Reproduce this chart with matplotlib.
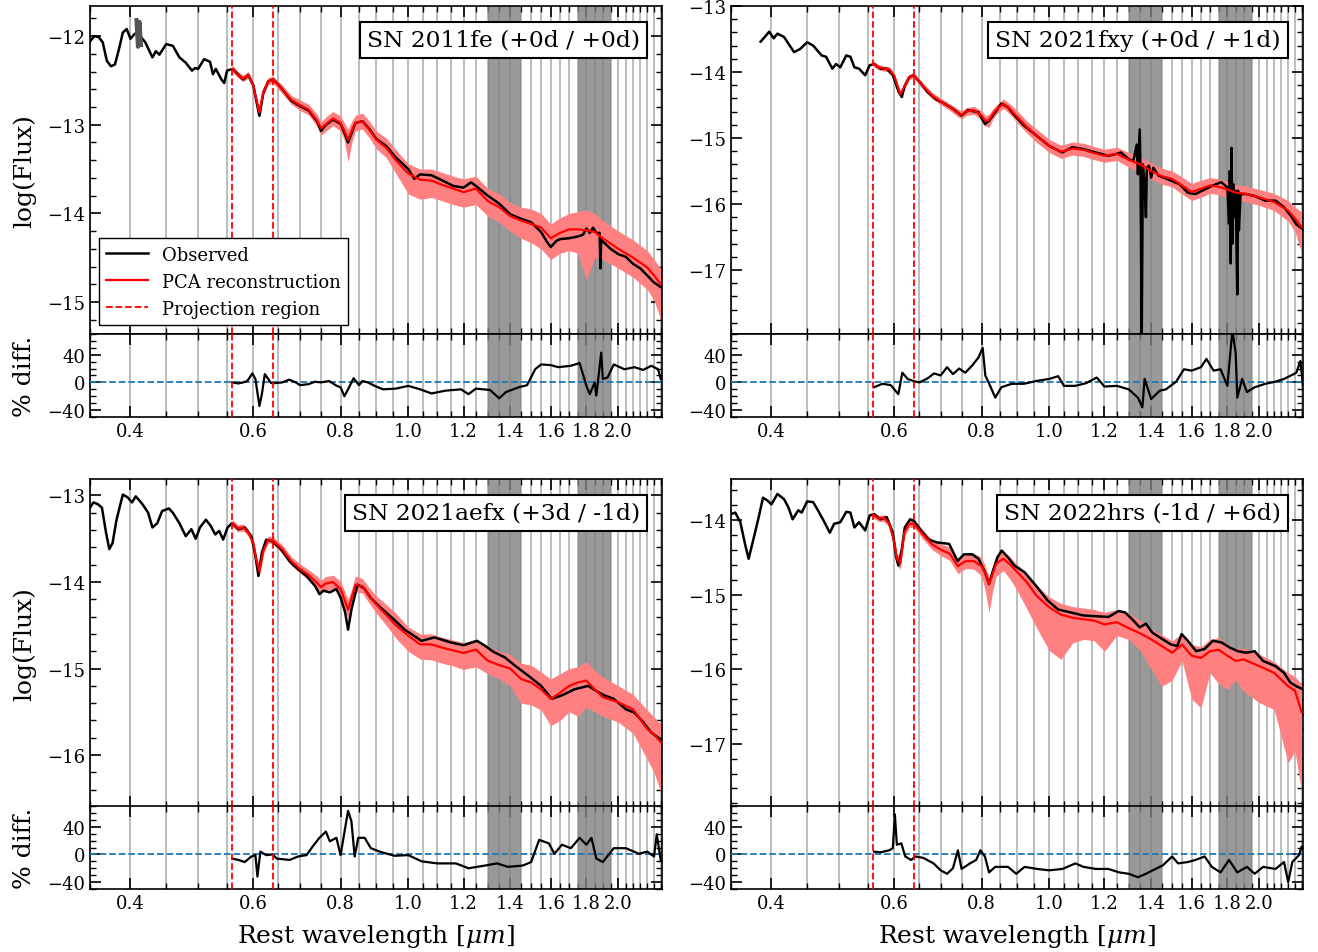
import matplotlib.pyplot as plt
from matplotlib.ticker import FixedLocator, FixedFormatter, MultipleLocator, NullFormatter

plt.rcParams['font.family'] = 'DejaVu Serif'
plt.rcParams['mathtext.fontset'] = 'dejavuserif'
plt.rcParams['axes.linewidth'] = 1.2

# wavelength ticks (micron)
xticks = [0.4, 0.6, 0.8, 1.0, 1.2, 1.4, 1.6, 1.8, 2.0]
xticklabels = ['0.4', '0.6', '0.8', '1.0', '1.2', '1.4', '1.6', '1.8', '2.0']
tellurics = [(1.30, 1.45), (1.75, 1.95)]
proj_region = [0.56, 0.64]

# grid of the PCA reconstruction (shared by the four SNe)
pca_wl = [0.56, 0.57, 0.58, 0.59, 0.60, 0.605, 0.612, 0.62, 0.63, 0.64,
          0.66, 0.68, 0.70, 0.72, 0.74, 0.75, 0.76, 0.78, 0.80, 0.81,
          0.82, 0.83, 0.84, 0.86, 0.88, 0.90, 0.93, 0.96, 1.00, 1.04,
          1.08, 1.12, 1.16, 1.20, 1.25, 1.30, 1.35, 1.40, 1.45, 1.50,
          1.55, 1.60, 1.65, 1.70, 1.75, 1.80, 1.85, 1.90, 2.00, 2.10,
          2.20, 2.25, 2.30]

# ---------------- SN 2011fe ----------------
fe_wl = [0.350, 0.355, 0.360, 0.365, 0.370, 0.375, 0.380, 0.385, 0.390, 0.395,
         0.400, 0.405, 0.410, 0.415, 0.420, 0.430, 0.435, 0.440, 0.450, 0.460,
         0.470, 0.480, 0.490, 0.495, 0.500, 0.510, 0.520, 0.525, 0.530, 0.540,
         0.545, 0.550, 0.560, 0.570, 0.580, 0.590, 0.600, 0.605, 0.612, 0.620,
         0.630, 0.640, 0.650, 0.660, 0.680, 0.700, 0.720, 0.740, 0.750, 0.760,
         0.780, 0.800, 0.810, 0.820, 0.830, 0.840, 0.860, 0.880, 0.900, 0.930,
         0.960, 1.000, 1.020, 1.040, 1.080, 1.120, 1.160, 1.200, 1.230, 1.250,
         1.300, 1.350, 1.400, 1.450, 1.500, 1.550, 1.580, 1.600, 1.630, 1.650,
         1.700, 1.750, 1.780, 1.800, 1.820, 1.840, 1.860, 1.880, 1.885, 1.890,
         1.950, 2.000, 2.050, 2.100, 2.150, 2.200, 2.250, 2.300]
fe_obs = [-12.06, -12.00, -12.01, -12.07, -12.28, -12.34, -12.32, -12.15, -11.96, -11.92,
          -12.03, -11.98, -11.95, -12.02, -12.07, -12.24, -12.17, -12.21, -12.09, -12.11,
          -12.24, -12.30, -12.39, -12.36, -12.37, -12.26, -12.29, -12.43, -12.37, -12.49,
          -12.53, -12.39, -12.37, -12.43, -12.49, -12.44, -12.56, -12.71, -12.90, -12.64,
          -12.51, -12.49, -12.54, -12.60, -12.73, -12.79, -12.84, -12.96, -13.07, -13.01,
          -12.94, -12.99, -13.09, -13.20, -13.09, -12.98, -12.96, -13.05, -13.16, -13.24,
          -13.37, -13.50, -13.61, -13.56, -13.57, -13.63, -13.69, -13.71, -13.65, -13.69,
          -13.80, -13.89, -14.01, -14.06, -14.10, -14.21, -14.32, -14.38, -14.31, -14.29,
          -14.28, -14.26, -14.24, -14.17, -14.22, -14.16, -14.22, -14.22, -14.62, -14.30,
          -14.40, -14.46, -14.49, -14.57, -14.62, -14.70, -14.78, -14.83]
fe_mask_wl = [0.408, 0.410, 0.412, 0.414]
fe_mask = [-11.82, -12.12, -11.84, -12.10]
fe_pca = [-12.37, -12.44, -12.48, -12.44, -12.56, -12.70, -12.86, -12.63, -12.51, -12.49,
          -12.60, -12.72, -12.78, -12.83, -12.95, -13.04, -13.00, -12.93, -12.98, -13.07,
          -13.17, -13.07, -12.98, -12.96, -13.06, -13.17, -13.26, -13.40, -13.55, -13.62,
          -13.63, -13.68, -13.72, -13.76, -13.72, -13.86, -13.93, -14.03, -14.08, -14.12,
          -14.16, -14.28, -14.22, -14.18, -14.18, -14.19, -14.21, -14.28, -14.40, -14.50,
          -14.61, -14.70, -14.80]
fe_lo = [-12.40, -12.47, -12.51, -12.48, -12.60, -12.75, -12.91, -12.67, -12.55, -12.53,
         -12.65, -12.77, -12.84, -12.89, -13.02, -13.12, -13.08, -13.01, -13.07, -13.18,
         -13.42, -13.20, -13.07, -13.05, -13.15, -13.27, -13.37, -13.55, -13.78, -13.84,
         -13.82, -13.86, -13.90, -13.93, -13.90, -14.03, -14.10, -14.20, -14.28, -14.33,
         -14.40, -14.52, -14.45, -14.42, -14.45, -14.75, -14.50, -14.52, -14.62, -14.72,
         -14.86, -14.98, -15.20]
fe_hi = [-12.33, -12.40, -12.44, -12.40, -12.52, -12.65, -12.81, -12.59, -12.47, -12.45,
         -12.55, -12.67, -12.72, -12.77, -12.88, -12.97, -12.92, -12.85, -12.90, -12.98,
         -13.05, -12.96, -12.89, -12.87, -12.96, -13.07, -13.15, -13.28, -13.44, -13.50,
         -13.50, -13.54, -13.58, -13.61, -13.58, -13.72, -13.78, -13.88, -13.93, -13.95,
         -14.00, -14.12, -14.05, -14.00, -13.98, -13.96, -14.00, -14.08, -14.20, -14.30,
         -14.42, -14.52, -14.62]
fe_res_wl = [0.559, 0.571, 0.58, 0.588, 0.598, 0.604, 0.612, 0.617, 0.623, 0.63,
             0.636, 0.645, 0.66, 0.675, 0.69, 0.70, 0.72, 0.735, 0.75, 0.77,
             0.79, 0.80, 0.81, 0.82, 0.835, 0.85, 0.86, 0.875, 0.895, 0.92,
             0.96, 1.00, 1.04, 1.08, 1.13, 1.19, 1.22, 1.25, 1.31, 1.35,
             1.38, 1.44, 1.48, 1.52, 1.55, 1.60, 1.64, 1.71, 1.76, 1.80,
             1.82, 1.85, 1.86, 1.89, 1.90, 1.93, 1.97, 2.04, 2.11, 2.17,
             2.23, 2.28, 2.30]
fe_res = [0, -1.5, 0, 2, 13, 5, -34, -17, 12, 5,
          -1, -1, 0, 4, 0, -4, -2.5, 1, 0, 2,
          -5, -7, -20, -10, 6, -4, 2, 0, -5, -10,
          -9, -5, -10, -16, -12, -10, -17, -9, -11, -23,
          -14, -7, -4, 19, 26, 25, 22, 24, 28, -5,
          -17, 0, -19, 43, 5, 7, 26, 19, 22, 18,
          24, 19, 5]

# ---------------- SN 2021fxy ----------------
fxy_wl = [0.386, 0.392, 0.397, 0.403, 0.408, 0.417, 0.423, 0.431, 0.440, 0.450,
          0.459, 0.465, 0.472, 0.479, 0.489, 0.495, 0.502, 0.512, 0.519, 0.526,
          0.534, 0.545, 0.553, 0.561, 0.573, 0.585, 0.597, 0.609, 0.615, 0.621,
          0.630, 0.639, 0.652, 0.670, 0.688, 0.708, 0.728, 0.749, 0.765, 0.792,
          0.809, 0.820, 0.837, 0.854, 0.872, 0.889, 0.920, 0.958, 1.000, 1.044,
          1.080, 1.120, 1.166, 1.216, 1.250, 1.267, 1.300, 1.320, 1.335, 1.340,
          1.348, 1.352, 1.357, 1.362, 1.370, 1.376, 1.380, 1.390, 1.400, 1.410,
          1.434, 1.474, 1.537, 1.580, 1.620, 1.670, 1.716, 1.764, 1.800, 1.810,
          1.815, 1.820, 1.825, 1.830, 1.835, 1.840, 1.850, 1.860, 1.865, 1.870,
          1.880, 1.917, 1.970, 2.040, 2.110, 2.170, 2.220, 2.260, 2.310]
fxy_obs = [-13.54, -13.46, -13.39, -13.49, -13.42, -13.47, -13.57, -13.70, -13.65, -13.55,
           -13.60, -13.67, -13.75, -13.77, -13.95, -13.88, -13.93, -13.75, -13.77, -13.93,
           -13.95, -14.05, -13.90, -13.88, -13.95, -13.95, -14.05, -14.31, -14.38, -14.21,
           -14.08, -14.05, -14.15, -14.31, -14.41, -14.48, -14.56, -14.66, -14.58, -14.61,
           -14.79, -14.74, -14.61, -14.48, -14.53, -14.64, -14.81, -14.96, -15.12, -15.22,
           -15.14, -15.17, -15.22, -15.27, -15.24, -15.22, -15.32, -15.35, -15.10, -15.55,
           -14.87, -15.60, -18.05, -15.40, -15.70, -16.20, -15.45, -15.42, -15.60, -15.45,
           -15.57, -15.62, -15.70, -15.83, -15.85, -15.78, -15.72, -15.67, -15.75, -16.30,
           -15.50, -16.90, -15.15, -16.60, -15.70, -16.20, -15.80, -17.37, -15.80, -16.40,
           -15.85, -15.85, -15.88, -15.95, -15.95, -16.05, -16.18, -16.31, -16.38]
fxy_pca = [-13.88, -13.93, -13.95, -13.96, -14.06, -14.18, -14.34, -14.22, -14.08, -14.05,
           -14.22, -14.36, -14.45, -14.53, -14.62, -14.65, -14.60, -14.58, -14.66, -14.74,
           -14.73, -14.64, -14.57, -14.48, -14.57, -14.68, -14.84, -14.97, -15.12, -15.21,
           -15.16, -15.18, -15.23, -15.27, -15.24, -15.33, -15.40, -15.50, -15.58, -15.62,
           -15.72, -15.82, -15.77, -15.72, -15.74, -15.78, -15.83, -15.84, -15.90, -15.97,
           -16.10, -16.22, -16.35]
fxy_lo = [-13.92, -13.97, -13.99, -14.00, -14.10, -14.22, -14.38, -14.26, -14.12, -14.09,
          -14.26, -14.41, -14.50, -14.58, -14.68, -14.71, -14.66, -14.64, -14.73, -14.82,
          -14.84, -14.72, -14.64, -14.55, -14.65, -14.77, -14.93, -15.07, -15.22, -15.31,
          -15.26, -15.28, -15.33, -15.37, -15.34, -15.44, -15.52, -15.62, -15.70, -15.74,
          -15.85, -15.95, -15.90, -15.84, -15.86, -15.90, -15.95, -15.96, -16.02, -16.10,
          -16.26, -16.42, -16.75]
fxy_hi = [-13.84, -13.89, -13.91, -13.92, -14.02, -14.14, -14.30, -14.18, -14.04, -14.01,
          -14.17, -14.31, -14.40, -14.48, -14.56, -14.59, -14.54, -14.52, -14.59, -14.66,
          -14.64, -14.56, -14.50, -14.41, -14.49, -14.59, -14.75, -14.87, -15.02, -15.11,
          -15.06, -15.08, -15.13, -15.17, -15.14, -15.22, -15.28, -15.38, -15.46, -15.50,
          -15.59, -15.69, -15.64, -15.60, -15.62, -15.66, -15.71, -15.72, -15.78, -15.84,
          -15.95, -16.05, -16.12]
fxy_res_wl = [0.561, 0.577, 0.593, 0.608, 0.616, 0.627, 0.639, 0.652, 0.670, 0.684,
              0.699, 0.714, 0.728, 0.743, 0.758, 0.775, 0.792, 0.803, 0.810, 0.823,
              0.837, 0.854, 0.884, 0.920, 0.958, 1.000, 1.03, 1.05, 1.09, 1.13,
              1.17, 1.20, 1.25, 1.30, 1.34, 1.36, 1.37, 1.40, 1.44, 1.47,
              1.52, 1.56, 1.60, 1.65, 1.68, 1.72, 1.76, 1.80, 1.83, 1.85,
              1.86, 1.89, 1.92, 1.97, 2.04, 2.11, 2.17, 2.22, 2.26, 2.29,
              2.31]
fxy_res = [-7, -2, -4, -17, 14, 5, 2, 0, 6, 13,
           10, 22, 12, 20, 14, 24, 36, 50, 10, -5,
           -22, -7, -2, -2, 2, 5, 9, -5, -5, -1,
           7, -6, -5, -10, -22, -36, 5, -24, -12, -10,
           1, 19, 17, 22, 34, 17, 19, -5, 75, 43,
           -22, 5, -14, -7, -2, 1, 5, 10, 14, 31,
           -5]

# ---------------- SN 2021aefx ----------------
ae_wl = [0.350, 0.354, 0.359, 0.364, 0.369, 0.373, 0.377, 0.382, 0.390, 0.396,
         0.402, 0.407, 0.416, 0.424, 0.430, 0.437, 0.444, 0.454, 0.460, 0.470,
         0.480, 0.489, 0.496, 0.503, 0.513, 0.521, 0.529, 0.536, 0.543, 0.551,
         0.559, 0.571, 0.583, 0.596, 0.604, 0.610, 0.617, 0.626, 0.639, 0.657,
         0.676, 0.695, 0.715, 0.736, 0.746, 0.756, 0.772, 0.789, 0.800, 0.812,
         0.820, 0.829, 0.846, 0.864, 0.883, 0.908, 0.947, 0.988, 1.045, 1.090,
         1.153, 1.200, 1.255, 1.290, 1.327, 1.375, 1.424, 1.485, 1.550, 1.605,
         1.660, 1.730, 1.810, 1.860, 1.910, 1.970, 2.050, 2.110, 2.170, 2.230,
         2.300]
ae_obs = [-13.14, -13.08, -13.10, -13.14, -13.43, -13.62, -13.55, -13.28, -12.99, -13.02,
          -13.08, -13.01, -13.10, -13.20, -13.37, -13.32, -13.18, -13.15, -13.20, -13.32,
          -13.47, -13.39, -13.50, -13.37, -13.28, -13.35, -13.45, -13.41, -13.51, -13.37,
          -13.32, -13.39, -13.37, -13.47, -13.70, -13.93, -13.66, -13.51, -13.53, -13.62,
          -13.76, -13.85, -13.93, -14.05, -14.14, -14.10, -14.12, -14.08, -14.18, -14.35,
          -14.55, -14.32, -14.03, -14.07, -14.18, -14.28, -14.41, -14.55, -14.68, -14.64,
          -14.70, -14.73, -14.68, -14.74, -14.81, -14.87, -14.97, -15.08, -15.20, -15.35,
          -15.31, -15.24, -15.20, -15.26, -15.31, -15.35, -15.47, -15.51, -15.62, -15.74,
          -15.82]
ae_pca = [-13.32, -13.38, -13.37, -13.43, -13.55, -13.72, -13.88, -13.64, -13.51, -13.52,
          -13.62, -13.76, -13.85, -13.92, -14.01, -14.06, -14.02, -14.00, -14.08, -14.20,
          -14.32, -14.18, -14.03, -14.05, -14.16, -14.26, -14.38, -14.50, -14.62, -14.72,
          -14.72, -14.76, -14.79, -14.82, -14.78, -14.91, -14.96, -15.00, -15.12, -15.16,
          -15.24, -15.35, -15.28, -15.20, -15.16, -15.14, -15.24, -15.33, -15.39, -15.47,
          -15.70, -15.76, -15.85]
ae_lo = [-13.36, -13.42, -13.41, -13.47, -13.59, -13.77, -13.93, -13.68, -13.55, -13.56,
         -13.67, -13.81, -13.90, -13.98, -14.08, -14.13, -14.10, -14.08, -14.16, -14.30,
         -14.42, -14.27, -14.11, -14.13, -14.25, -14.36, -14.50, -14.65, -14.80, -14.89,
         -14.90, -14.94, -14.97, -15.01, -14.98, -15.06, -15.12, -15.20, -15.40, -15.42,
         -15.48, -15.66, -15.60, -15.50, -15.55, -15.45, -15.50, -15.55, -15.62, -15.75,
         -16.05, -16.20, -16.43]
ae_hi = [-13.28, -13.34, -13.33, -13.39, -13.51, -13.67, -13.83, -13.60, -13.47, -13.48,
         -13.57, -13.71, -13.79, -13.86, -13.93, -13.98, -13.94, -13.92, -13.99, -14.10,
         -14.20, -14.08, -13.93, -13.96, -14.07, -14.16, -14.26, -14.36, -14.52, -14.60,
         -14.60, -14.64, -14.67, -14.70, -14.66, -14.74, -14.80, -14.84, -14.94, -14.96,
         -15.04, -15.12, -15.06, -15.00, -14.98, -14.92, -15.02, -15.10, -15.20, -15.30,
         -15.48, -15.56, -15.64]
ae_res_wl = [0.56, 0.571, 0.583, 0.596, 0.604, 0.608, 0.614, 0.626, 0.639, 0.648,
             0.676, 0.695, 0.715, 0.729, 0.746, 0.762, 0.772, 0.789, 0.80, 0.812,
             0.82, 0.829, 0.838, 0.848, 0.866, 0.884, 0.91, 0.956, 1.00, 1.045,
             1.10, 1.17, 1.22, 1.29, 1.34, 1.39, 1.46, 1.50, 1.54, 1.59,
             1.62, 1.66, 1.71, 1.76, 1.80, 1.83, 1.86, 1.90, 1.97, 2.05,
             2.14, 2.20, 2.25, 2.27, 2.30]
ae_res = [-6, -8, -11, -3, -1, -32, 4, -1, 0, -6,
          -8, -3, -1, 11, 24, 33, 19, 24, -1, 38,
          63, 48, -3, 24, 24, 9, 4, -2, -1, -10,
          -13, -13, -20, -16, -13, -18, -16, -11, 21, 16,
          1, 14, 9, 24, 14, 24, -6, -11, 9, 9,
          1, 4, -3, 29, -8]

# ---------------- SN 2022hrs ----------------
hrs_wl = [0.350, 0.355, 0.361, 0.367, 0.371, 0.378, 0.384, 0.389, 0.395, 0.400,
          0.408, 0.417, 0.423, 0.429, 0.437, 0.442, 0.450, 0.459, 0.465, 0.474,
          0.485, 0.492, 0.502, 0.512, 0.519, 0.526, 0.534, 0.545, 0.553, 0.561,
          0.573, 0.585, 0.597, 0.603, 0.608, 0.615, 0.621, 0.632, 0.640, 0.653,
          0.671, 0.690, 0.719, 0.739, 0.755, 0.776, 0.792, 0.809, 0.820, 0.832,
          0.843, 0.855, 0.873, 0.891, 0.922, 0.961, 0.995, 1.030, 1.074, 1.119,
          1.166, 1.216, 1.258, 1.285, 1.321, 1.348, 1.376, 1.405, 1.454, 1.495,
          1.526, 1.548, 1.580, 1.624, 1.670, 1.716, 1.764, 1.814, 1.864, 1.916,
          1.970, 2.025, 2.110, 2.170, 2.216, 2.260, 2.310]
hrs_obs = [-13.92, -13.90, -14.03, -14.34, -14.52, -14.21, -13.94, -13.70, -13.74, -13.79,
           -13.65, -13.72, -13.83, -13.99, -13.87, -13.90, -13.75, -13.76, -13.85, -13.99,
           -14.17, -14.05, -14.03, -13.89, -13.90, -14.10, -14.03, -14.14, -13.94, -13.92,
           -13.99, -13.96, -14.17, -14.48, -14.61, -14.39, -14.10, -13.99, -14.01, -14.12,
           -14.26, -14.30, -14.32, -14.55, -14.46, -14.46, -14.52, -14.70, -14.86, -14.66,
           -14.50, -14.41, -14.50, -14.61, -14.70, -14.90, -15.08, -15.20, -15.24, -15.28,
           -15.29, -15.30, -15.22, -15.24, -15.35, -15.44, -15.39, -15.51, -15.60, -15.67,
           -15.69, -15.53, -15.62, -15.76, -15.73, -15.62, -15.64, -15.71, -15.76, -15.78,
           -15.76, -15.89, -15.96, -16.05, -16.18, -16.23, -16.27]
hrs_pca = [-13.93, -13.98, -13.97, -14.05, -14.30, -14.52, -14.58, -14.17, -14.05, -14.05,
           -14.20, -14.33, -14.40, -14.45, -14.62, -14.58, -14.55, -14.55, -14.62, -14.72,
           -14.86, -14.72, -14.58, -14.52, -14.60, -14.70, -14.84, -15.02, -15.17, -15.27,
           -15.31, -15.33, -15.35, -15.40, -15.37, -15.45, -15.52, -15.60, -15.69, -15.78,
           -15.67, -15.82, -15.85, -15.76, -15.74, -15.82, -15.89, -15.87, -15.96, -16.05,
           -16.23, -16.29, -16.58]
hrs_lo = [-13.97, -14.02, -14.02, -14.10, -14.36, -14.60, -14.66, -14.23, -14.10, -14.10,
          -14.26, -14.40, -14.48, -14.54, -14.72, -14.68, -14.65, -14.66, -14.75, -14.95,
          -15.24, -14.95, -14.75, -14.68, -14.80, -14.95, -15.20, -15.45, -15.75, -15.87,
          -15.65, -15.60, -15.62, -15.76, -15.55, -15.60, -15.75, -16.00, -16.23, -16.15,
          -15.89, -16.40, -16.52, -16.05, -16.20, -16.27, -16.15, -16.30, -16.45, -16.54,
          -17.26, -17.10, -17.66]
hrs_hi = [-13.89, -13.94, -13.93, -14.00, -14.24, -14.45, -14.50, -14.11, -13.99, -14.00,
          -14.14, -14.26, -14.32, -14.36, -14.52, -14.48, -14.45, -14.45, -14.50, -14.62,
          -14.76, -14.62, -14.47, -14.42, -14.50, -14.60, -14.72, -14.88, -15.03, -15.12,
          -15.16, -15.18, -15.20, -15.24, -15.20, -15.25, -15.35, -15.46, -15.54, -15.62,
          -15.52, -15.67, -15.70, -15.60, -15.58, -15.66, -15.72, -15.72, -15.80, -15.90,
          -16.05, -16.10, -16.20]
hrs_res_wl = [0.561, 0.573, 0.59, 0.597, 0.601, 0.605, 0.614, 0.622, 0.634, 0.643,
              0.66, 0.683, 0.699, 0.714, 0.728, 0.74, 0.749, 0.77, 0.786, 0.797,
              0.809, 0.82, 0.837, 0.873, 0.897, 0.922, 0.961, 1.00, 1.045, 1.09,
              1.12, 1.166, 1.216, 1.26, 1.30, 1.34, 1.376, 1.42, 1.454, 1.50,
              1.53, 1.58, 1.62, 1.67, 1.71, 1.76, 1.81, 1.86, 1.92, 1.97,
              2.025, 2.11, 2.17, 2.20, 2.23, 2.28, 2.30]
hrs_res = [4, 3, 6, 9, 58, 14, 16, -3, -8, -3,
           -5, -13, -23, -28, -20, 6, -21, -13, -8, 6,
           -3, -26, -18, -18, -28, -18, -21, -23, -21, -13,
           -18, -21, -21, -26, -28, -33, -28, -21, -16, -3,
           -13, -11, -8, -3, -18, -26, -8, -26, -18, -28,
           -18, -21, -11, -40, -11, -1, 11]

panels = [
    dict(name='SN 2011fe (+0d / +0d)', wl=fe_wl, obs=fe_obs, pca=fe_pca, lo=fe_lo, hi=fe_hi,
         res_wl=fe_res_wl, res=fe_res, ylim=(-15.36, -11.66)),
    dict(name='SN 2021fxy (+0d / +1d)', wl=fxy_wl, obs=fxy_obs, pca=fxy_pca, lo=fxy_lo, hi=fxy_hi,
         res_wl=fxy_res_wl, res=fxy_res, ylim=(-17.97, -13.0)),
    dict(name='SN 2021aefx (+3d / -1d)', wl=ae_wl, obs=ae_obs, pca=ae_pca, lo=ae_lo, hi=ae_hi,
         res_wl=ae_res_wl, res=ae_res, ylim=(-16.6, -12.81)),
    dict(name='SN 2022hrs (-1d / +6d)', wl=hrs_wl, obs=hrs_obs, pca=hrs_pca, lo=hrs_lo, hi=hrs_hi,
         res_wl=hrs_res_wl, res=hrs_res, ylim=(-17.85, -13.45)),
]

fig = plt.figure(figsize=(13.18, 9.53), dpi=100)

col_x = [0.0683, 0.5546]
main_y = [0.6485, 0.1521]
res_y = [0.5614, 0.0661]
w, h_main, h_res = 0.434, 0.3442, 0.0871


def style_x(a):
    a.set_xscale('log')
    a.set_xlim(0.35, 2.31)
    a.xaxis.set_major_locator(FixedLocator(xticks))
    a.xaxis.set_major_formatter(FixedFormatter(xticklabels))
    a.xaxis.set_minor_locator(MultipleLocator(0.05))
    a.xaxis.set_minor_formatter(NullFormatter())
    a.grid(True, which='both', axis='x', color='#b8b8b8', lw=1.3)
    a.set_axisbelow(True)
    for t0, t1 in tellurics:
        a.axvspan(t0, t1, color='gray', alpha=0.8, lw=0, zorder=1)
    a.tick_params(which='both', direction='in', top=True, right=True, labelsize=13)
    a.tick_params(which='major', length=8, width=1.2)
    a.tick_params(which='minor', length=4, width=1.0)


for i, p in enumerate(panels):
    r, c = divmod(i, 2)
    ax = fig.add_axes([col_x[c], main_y[r], w, h_main])
    rax = fig.add_axes([col_x[c], res_y[r], w, h_res])
    style_x(ax)
    style_x(rax)

    # main panel
    ax.fill_between(pca_wl, p['lo'], p['hi'], color='#ff8080', lw=0, zorder=2)
    ax.plot(p['wl'], p['obs'], color='black', lw=1.8, zorder=3, label='Observed')
    if i == 0:
        ax.plot(fe_mask_wl, fe_mask, color='#555555', lw=3, zorder=3)
    ax.plot(pca_wl, p['pca'], color='red', lw=1.6, zorder=4, label='PCA reconstruction')
    ax.axvline(proj_region[0], color='red', ls='--', lw=1.3, zorder=5, label='Projection region')
    ax.axvline(proj_region[1], color='red', ls='--', lw=1.3, zorder=5)
    ax.set_ylim(*p['ylim'])
    ax.yaxis.set_major_locator(MultipleLocator(1))
    ax.yaxis.set_minor_locator(MultipleLocator(0.2))
    ax.tick_params(labelbottom=False)
    ax.text(0.9615, 0.93, p['name'], transform=ax.transAxes, ha='right', va='top',
            fontsize=16.8, zorder=10,
            bbox=dict(boxstyle='square,pad=0.3', fc='white', ec='black', lw=1.5))

    # residual panel
    rax.axhline(0, color='C0', ls='--', lw=1.3, zorder=3)
    rax.plot(p['res_wl'], p['res'], color='black', lw=1.6, zorder=4)
    for x0 in proj_region:
        rax.axvline(x0, color='red', ls='--', lw=1.3, zorder=5)
    rax.set_ylim(-50, 70)
    rax.yaxis.set_major_locator(FixedLocator([-40, 0, 40]))
    rax.yaxis.set_minor_locator(MultipleLocator(10))

    if c == 0:
        ax.set_ylabel('log(Flux)', fontsize=18, labelpad=8)
        rax.set_ylabel('% diff.', fontsize=18, labelpad=8)
    if r == 1:
        rax.set_xlabel(r'Rest wavelength [$\mu m$]', fontsize=18, labelpad=7)
    if i == 0:
        ax.legend(loc='lower left', fontsize=13, fancybox=False, edgecolor='black',
                  framealpha=1, handlelength=2.3)

fig.savefig('out.png', dpi=100)
